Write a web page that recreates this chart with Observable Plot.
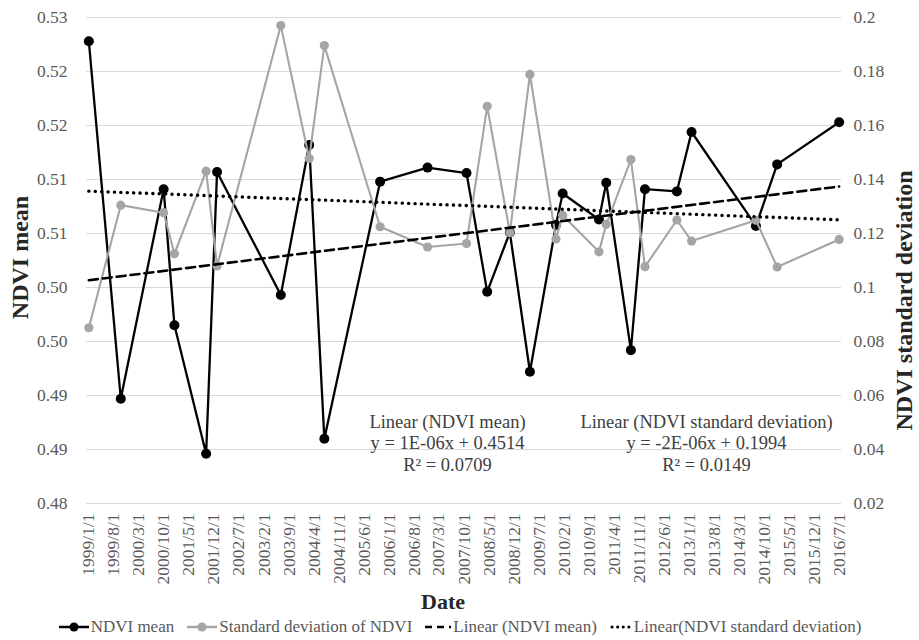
<!DOCTYPE html>
<html>
<head>
<meta charset="utf-8">
<script src="https://cdn.jsdelivr.net/npm/d3@7"></script>
<script src="https://cdn.jsdelivr.net/npm/@observablehq/plot@0.6"></script>
<style>
  body { margin: 0; background: #fff; }
  #chart { width: 919px; }
  #chart svg text, #chart svg g { font-family: 'Liberation Serif', 'Times New Roman', serif !important; }
  .legend { display: flex; justify-content: center; align-items: center; height: 26px;
            font-family: "Liberation Serif", serif; font-size: 17px; color: #595959; }
  .legend .item { display: flex; align-items: center; margin: 0 6px; }
  .legend svg { margin-right: 1px; }
</style>
</head>
<body>
<div id="chart"></div>
<script>
// ---- data ----
const dates = ["1999-01-01","1999-09-30","2000-09-29","2000-12-30","2001-09-26","2001-12-28",
  "2003-06-24","2004-02-21","2004-06-29","2005-10-17","2006-11-25","2007-10-23","2008-04-16",
  "2008-10-26","2009-04-15","2009-11-23","2010-01-19","2010-11-24","2011-01-25","2011-08-23",
  "2011-12-21","2012-09-18","2013-01-21","2014-07-23","2015-01-20","2016-07-01"];
const ndviMean = [0.5228,0.4897,0.5091,0.4965,0.4846,0.5107,0.4993,0.5132,0.4860,0.5098,
  0.5111,0.5106,0.4996,0.5051,0.4922,0.5058,0.5087,0.5063,0.5097,0.4942,0.5091,0.5089,
  0.5144,0.5057,0.5114,0.5153];
const ndviSd = [0.0851,0.1305,0.1277,0.1125,0.1431,0.1080,0.1970,0.1478,0.1896,0.1225,
  0.1150,0.1163,0.1671,0.1203,0.1789,0.1180,0.1268,0.1132,0.1234,0.1474,0.1077,0.1250,
  0.1172,0.1249,0.1076,0.1178];
const xTickLabels = ["1999/1/1","1999/8/1","2000/3/1","2000/10/1","2001/5/1","2001/12/1",
  "2002/7/1","2003/2/1","2003/9/1","2004/4/1","2004/11/1","2005/6/1","2006/1/1","2006/8/1",
  "2007/3/1","2007/10/1","2008/5/1","2008/12/1","2009/7/1","2010/2/1","2010/9/1","2011/4/1",
  "2011/11/1","2012/6/1","2013/1/1","2013/8/1","2014/3/1","2014/10/1","2015/5/1","2015/12/1",
  "2016/7/1"];
const leftTicks = [0.48,0.485,0.49,0.495,0.50,0.505,0.51,0.515,0.52,0.525];
const leftTickLabels = ["0.48","0.49","0.49","0.50","0.50","0.51","0.51","0.52","0.52","0.53"];
const rightTicks = [0.02,0.04,0.06,0.08,0.10,0.12,0.14,0.16,0.18,0.20];
const rightTickLabels = ["0.02","0.04","0.06","0.08","0.1","0.12","0.14","0.16","0.18","0.2"];

// ---- helpers ----
const leftMin = 0.48, leftMax = 0.525, rightMin = 0.02, rightMax = 0.20;
const toLeft = v => leftMin + (v - rightMin) * (leftMax - leftMin) / (rightMax - rightMin);
const parse = d3.utcParse("%Y-%m-%d");
const rows = dates.map((d, i) => ({date: parse(d), mean: ndviMean[i], sd: ndviSd[i], sdL: toLeft(ndviSd[i])}));
const xTicks = xTickLabels.map(s => { const [y, m, d] = s.split("/").map(Number); return new Date(Date.UTC(y, m - 1, d)); });
const xLabelMap = new Map(xTicks.map((d, i) => [+d, xTickLabels[i]]));
const leftLabelMap = new Map(leftTicks.map((v, i) => [v, leftTickLabels[i]]));
const rightPos = rightTicks.map(toLeft);
const rightLabelMap = new Map(rightPos.map((v, i) => [v, rightTickLabels[i]]));

const font = "'Liberation Serif', 'Times New Roman', serif";
const grey = "#a5a5a5";
const tickStyle = {fontSize: 17.5, fill: "#595959", fontFamily: font};

const plot = Plot.plot({
  width: 919,
  height: 614,
  marginTop: 17,
  marginBottom: 111,
  marginLeft: 86,
  marginRight: 78,
  style: {fontFamily: font, fontSize: "17.5px", color: "#595959", background: "#fff"},
  x: {type: "utc", domain: [new Date(Date.UTC(1998, 11, 12)), new Date(Date.UTC(2016, 6, 21))]},
  y: {domain: [leftMin, leftMax]},
  marks: [
    Plot.gridY(leftTicks, {stroke: "#d9d9d9", strokeOpacity: 1, strokeWidth: 1}),
    Plot.axisY(leftTicks, {anchor: "left", tickSize: 0, tickPadding: 19, label: null,
      tickFormat: v => leftLabelMap.get(v), ...tickStyle}),
    Plot.axisY(rightPos, {anchor: "right", tickSize: 0, tickPadding: 12, label: null,
      tickFormat: v => rightLabelMap.get(v), ...tickStyle}),
    Plot.axisX(xTicks, {anchor: "bottom", tickSize: 0, tickPadding: 10, tickRotate: -90, label: null,
      tickFormat: d => xLabelMap.get(+d), ...tickStyle}),
    // NDVI mean series
    Plot.line(rows, {x: "date", y: "mean", stroke: "#000", strokeWidth: 2.3}),
    Plot.dot(rows, {x: "date", y: "mean", fill: "#000", r: 5}),
    // SD series (secondary axis)
    Plot.line(rows, {x: "date", y: "sdL", stroke: grey, strokeWidth: 2.1}),
    Plot.dot(rows, {x: "date", y: "sdL", fill: grey, r: 4.6}),
    // trend lines
    Plot.linearRegressionY(rows, {x: "date", y: "mean", stroke: "#000", strokeWidth: 2.6,
      strokeDasharray: "9,5", ci: 0}),
    Plot.linearRegressionY(rows, {x: "date", y: "sdL", stroke: "#000", strokeWidth: 3.4,
      strokeDasharray: "0.1,6.3", strokeLinecap: "round", ci: 0}),
    // trendline labels
    Plot.text(["Linear (NDVI mean)\ny = 1E-06x + 0.4514\nR² = 0.0709"], {
      frameAnchor: "bottom", lineAnchor: "middle", dx: -16.5, dy: -61, fontSize: 18.5, fill: "#404040",
      lineHeight: 1.17, fontFamily: font}),
    Plot.text(["Linear (NDVI standard deviation)\ny = -2E-06x + 0.1994\nR² = 0.0149"], {
      frameAnchor: "bottom", lineAnchor: "middle", dx: 242.5, dy: -61, fontSize: 18.5, fill: "#404040",
      lineHeight: 1.17, fontFamily: font}),
    // axis titles
    Plot.text(["NDVI mean"], {frameAnchor: "left", textAnchor: "middle", lineAnchor: "middle", rotate: -90,
      dx: -66, dy: -3, fontSize: 24, fontWeight: "bold", fill: "#262626", fontFamily: font}),
    Plot.text(["NDVI standard deviation"], {frameAnchor: "right", textAnchor: "middle", lineAnchor: "middle",
      rotate: -90, dx: 63, dy: 40, fontSize: 24, fontWeight: "bold", fill: "#262626", fontFamily: font}),
    Plot.text(["Date"], {frameAnchor: "bottom", textAnchor: "middle", lineAnchor: "middle", dx: -21, dy: 98,
      fontSize: 22, fontWeight: "bold", fill: "#262626", fontFamily: font})
  ]
});
document.getElementById("chart").appendChild(plot);

// ---- legend ----
const legendItems = [
  {label: "NDVI mean", color: "#000", dash: null, dot: true, w: 32},
  {label: "Standard deviation of NDVI", color: grey, dash: null, dot: true, w: 32},
  {label: "Linear (NDVI mean)", color: "#000", dash: "7,5", dot: false, w: 28},
  {label: "Linear(NDVI standard deviation)", color: "#000", dash: "0.1,5.5", dot: false, w: 24}
];
const legend = d3.select("#chart").append("div").attr("class", "legend");
legendItems.forEach(it => {
  const dotted = it.dash && it.dash.startsWith("0.1");
  const item = legend.append("div").attr("class", "item");
  const svg = item.append("svg").attr("width", it.w).attr("height", 14);
  svg.append("line").attr("x1", dotted ? 3 : 1).attr("x2", it.w - (dotted ? 3 : 1)).attr("y1", 7).attr("y2", 7)
    .attr("stroke", it.color).attr("stroke-width", dotted ? 3 : 2.5)
    .attr("stroke-dasharray", it.dash).attr("stroke-linecap", dotted ? "round" : "butt");
  if (it.dot) svg.append("circle").attr("cx", it.w / 2).attr("cy", 7).attr("r", 4.5).attr("fill", it.color);
  item.append("span").text(it.label);
});
</script>
</body>
</html>
